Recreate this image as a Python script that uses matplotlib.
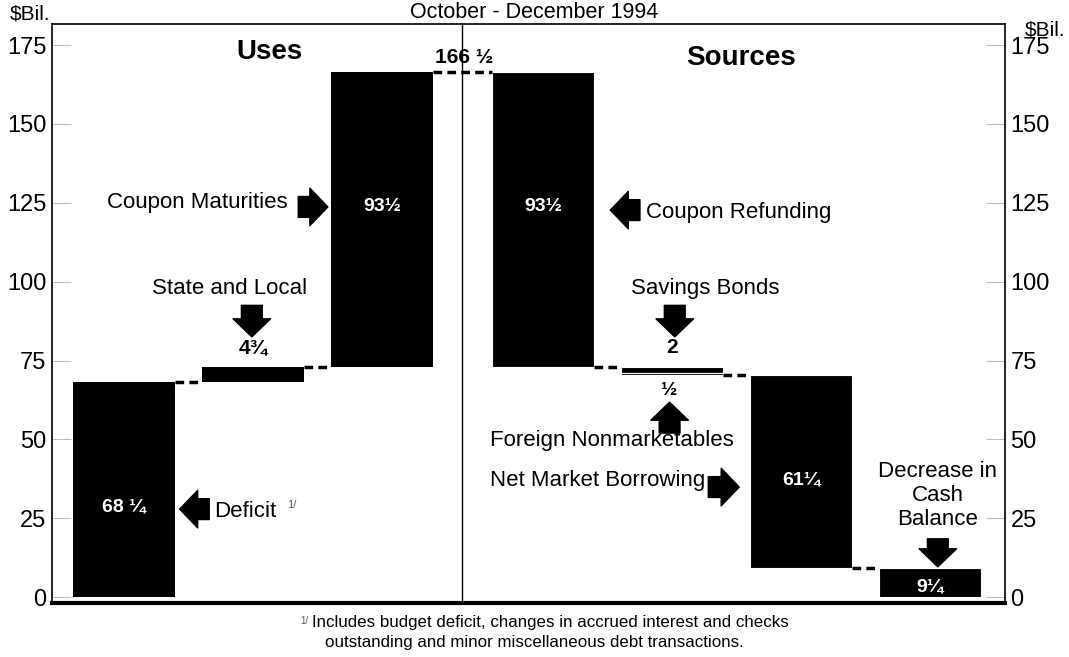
import matplotlib.pyplot as plt

plt.rcParams['font.family'] = ['Liberation Sans', 'DejaVu Sans']

# Uses (stack upward) and Sources (stack downward), $ billions
uses = ['Deficit', 'State and Local', 'Coupon Maturities']
uses_amounts = [68.25, 4.75, 93.5]
uses_labels = ['68 ¼', '4¾', '93½']

sources = ['Coupon Refunding', 'Savings Bonds', 'Foreign Nonmarketables',
           'Net Market Borrowing', 'Decrease in Cash Balance']
sources_amounts = [93.5, 2.0, 0.5, 61.25, 9.25]
sources_labels = ['93½', '2', '½', '61¼', '9¼']

yticks = [0, 25, 50, 75, 100, 125, 150, 175]
total_label = '166 ½'

fig = plt.figure(figsize=(10.69, 6.57), dpi=100)
ax = fig.add_axes([0.0486, 0.082, 0.8914, 0.8815])

# positions of the bars
uses_x = [0, 1, 2]
sources_x = [3.25, 4.25, 4.25, 5.25, 6.25]
w = 0.79

# bottoms
uses_bottom = []
level = 0
for a in uses_amounts:
    uses_bottom.append(level)
    level += a
total = level
sources_bottom = []
level = total
for a in sources_amounts:
    level -= a
    sources_bottom.append(level)

ax.bar(uses_x, uses_amounts, bottom=uses_bottom, width=w, color='black')
ax.bar(sources_x, sources_amounts, bottom=sources_bottom, width=w,
       color='black', edgecolor='white', linewidth=0.8)

# dashed connectors
dash = dict(color='black', lw=2.5, linestyle=(0, (2.5, 1.5)))
for i in range(len(uses_x) - 1):
    top = uses_bottom[i] + uses_amounts[i]
    ax.plot([uses_x[i] + w / 2, uses_x[i + 1] - w / 2], [top, top], **dash)
ax.plot([uses_x[-1] + w / 2, sources_x[0] - w / 2], [total, total], **dash)
for i in range(len(sources_x) - 1):
    if sources_x[i] == sources_x[i + 1]:
        continue
    lev = sources_bottom[i]
    ax.plot([sources_x[i] + w / 2, sources_x[i + 1] - w / 2], [lev, lev], **dash)

# center divider
mid = 2.62
ax.axvline(mid, color='black', lw=1)

ax.set_xlim(-0.56, 6.83)
ax.set_ylim(-1.9, 181.7)
ax.set_yticks(yticks)
ax.set_xticks([])
ax.tick_params(axis='y', direction='in', length=14, width=0.8, color='#bbbbbb',
               labelsize=17, left=True, right=True, labelleft=True,
               labelright=True, pad=4)
for s in ['left', 'right', 'top']:
    ax.spines[s].set_linewidth(1.2)
ax.spines['bottom'].set_linewidth(3)

# value labels inside / near bars
vfs = 14
ax.text(uses_x[0], 28.5, uses_labels[0], color='white', fontsize=vfs,
        fontweight='bold', ha='center', va='center')
ax.text(uses_x[1], 79, uses_labels[1], color='black', fontsize=15,
        fontweight='bold', ha='center', va='center')
ax.text(uses_x[2], 123.7, uses_labels[2], color='white', fontsize=vfs,
        fontweight='bold', ha='center', va='center')
ax.text(sources_x[0], 123.7, sources_labels[0], color='white', fontsize=vfs,
        fontweight='bold', ha='center', va='center')
ax.text(sources_x[1], 79, sources_labels[1], color='black', fontsize=15,
        fontweight='bold', ha='center', va='center')
ax.text(sources_x[2] - 0.03, 65.6, sources_labels[2], color='black', fontsize=14,
        fontweight='bold', ha='center', va='center')
ax.text(sources_x[3], 37, sources_labels[3], color='white', fontsize=vfs,
        fontweight='bold', ha='center', va='center')
ax.text(sources_x[4], 3.2, sources_labels[4], color='white', fontsize=vfs,
        fontweight='bold', ha='center', va='center')
ax.text(mid + 0.02, 171, total_label, fontsize=15, fontweight='bold',
        ha='center', va='center')

ax.text(1.13, 172.8, 'Uses', fontsize=20, fontweight='bold', ha='center', va='center')
ax.text(4.78, 170.9, 'Sources', fontsize=20, fontweight='bold', ha='center', va='center')


def arrow(x0, y0, x1, y1):
    ax.annotate('', xy=(x1, y1), xytext=(x0, y0),
                arrowprops=dict(arrowstyle='simple,head_length=0.65,head_width=1.35,tail_width=0.75',
                                fc='black', ec='black', mutation_scale=20,
                                shrinkA=0, shrinkB=0))


fs = 16
ax.text(1.27, 125.2, uses[2], fontsize=fs, ha='right', va='center')
arrow(1.35, 123.7, 1.58, 123.7)
ax.text(0.82, 98, uses[1], fontsize=fs, ha='center', va='center')
arrow(0.99, 92.5, 0.99, 82.5)
ax.text(0.70, 27.3, uses[0], fontsize=fs, ha='left', va='center')
ax.text(1.3, 29.2, '1/', fontsize=8, ha='center', va='center', color='#555555')
arrow(0.66, 27.9, 0.43, 27.9)

ax.text(4.05, 122, sources[0], fontsize=fs, ha='left', va='center')
arrow(4.0, 122.7, 3.77, 122.7)
ax.text(4.51, 97.7, sources[1], fontsize=fs, ha='center', va='center')
arrow(4.27, 92.5, 4.27, 82.5)
ax.text(3.78, 49.5, sources[2], fontsize=fs, ha='center', va='center')
arrow(4.23, 52, 4.23, 61.8)
ax.text(4.51, 37, sources[3], fontsize=fs, ha='right', va='center')
arrow(4.53, 34.9, 4.77, 34.9)
ax.text(6.31, 32.3, 'Decrease in\nCash\nBalance', fontsize=fs, ha='center',
        va='center', linespacing=1.2)
arrow(6.31, 18.5, 6.31, 9.6)

fig.text(0.028, 0.978, '$Bil.', fontsize=15, ha='center', va='center')
fig.text(0.978, 0.955, '$Bil.', fontsize=15, ha='center', va='center')
fig.text(0.5, 0.981, 'October - December 1994', fontsize=15.5, ha='center', va='center')

fig.text(0.285, 0.0555, '1/', fontsize=7, ha='center', va='center', color='#555555')
fig.text(0.292, 0.053, 'Includes budget deficit, changes in accrued interest and checks',
         fontsize=12.2, ha='left', va='center')
fig.text(0.5, 0.022, 'outstanding and minor miscellaneous debt transactions.',
         fontsize=12.2, ha='center', va='center')

fig.savefig('out.png', dpi=100)
